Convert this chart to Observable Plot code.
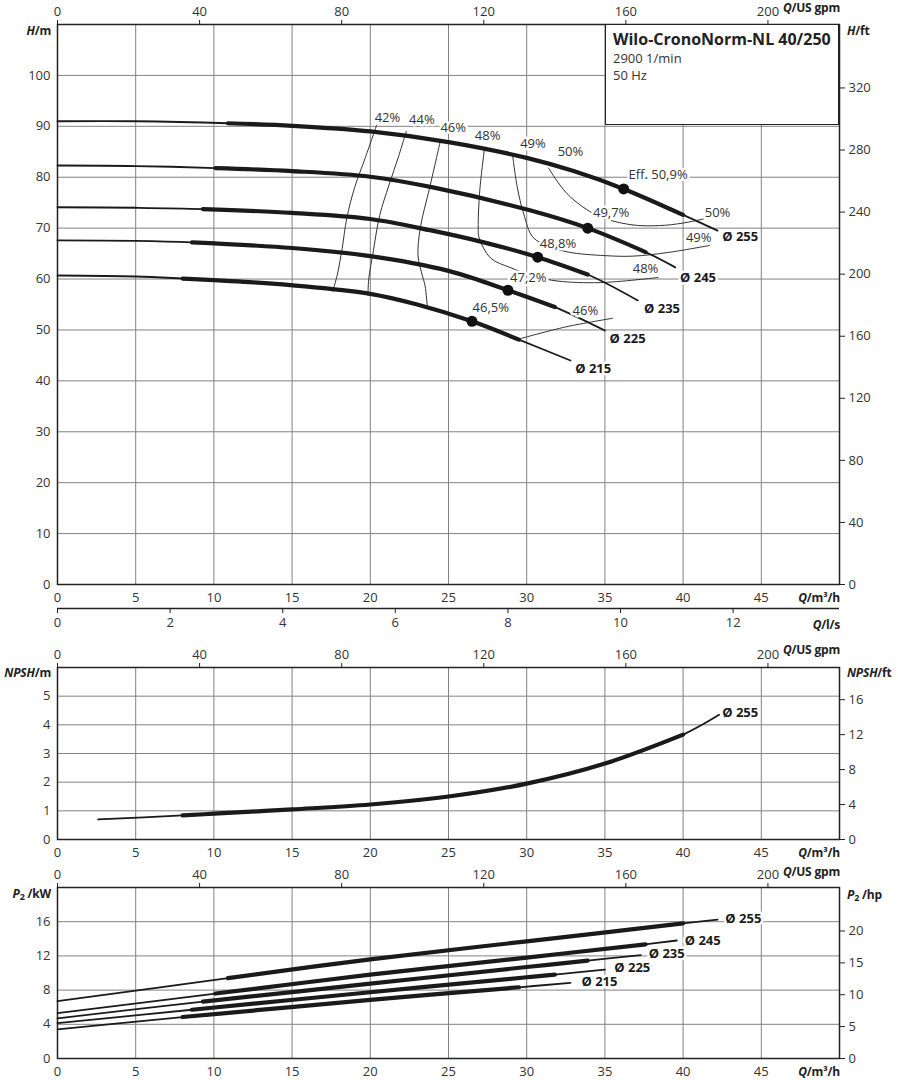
<!DOCTYPE html>
<html><head><meta charset="utf-8">
<script src="https://cdn.jsdelivr.net/npm/d3@7"></script>
<script src="https://cdn.jsdelivr.net/npm/@observablehq/plot@0.6"></script>
<style>
body{margin:0;background:#fff;}
#chart{position:relative;width:898px;height:1080px;font-family:"Open Sans",sans-serif;color:#333;overflow:hidden;}
#chart svg{position:absolute;left:0;overflow:visible;}
.lab{position:absolute;font-size:12px;font-weight:bold;color:#222;white-space:nowrap;line-height:1;transform:translateY(-50%);letter-spacing:-0.2px;}
.lab sub{font-size:9px;vertical-align:-2px;}
#title{position:absolute;left:605px;top:24px;width:232px;height:99px;border:1.5px solid #222;background:#fff;}
#title .t1{position:absolute;left:7px;top:3px;font-size:16px;font-weight:bold;color:#222;}
#title .t2{position:absolute;left:7px;top:24px;font-size:13px;color:#333;}
#title .t3{position:absolute;left:7px;top:41px;font-size:13px;color:#333;}
</style></head><body><div id="chart"></div>
<script>
// ---------- data ----------
const diameters = ["Ø 255", "Ø 245", "Ø 235", "Ø 225", "Ø 215"];
const qTicks = [0, 5, 10, 15, 20, 25, 30, 35, 40, 45];
const gpmTicks = [0, 40, 80, 120, 160, 200];
const lsTicks = [0, 2, 4, 6, 8, 10, 12];
const hTicks = [0, 10, 20, 30, 40, 50, 60, 70, 80, 90, 100];
const hFtTicks = [0, 40, 80, 120, 160, 200, 240, 280, 320];
const npshTicks = [0, 1, 2, 3, 4, 5];
const npshFtTicks = [0, 4, 8, 12, 16];
const p2Ticks = [0, 4, 8, 12, 16];
const p2HpTicks = [0, 5, 10, 15, 20];

// H(Q) curves  [Q m³/h, H m]
const h255 = [[0,91.0],[5,91.0],[10.9,90.6],[15,90.1],[20,89.0],[25,86.9],[30,83.8],[33,81.2],[36.2,77.7],[40,72.6],[42.2,69.5]];
const h245 = [[0,82.3],[5,82.2],[10.1,81.8],[15,81.2],[20,80.1],[24,78.0],[30.2,73.5],[33.9,70.0],[37.6,65.3],[39.5,62.3]];
const h235 = [[0,74.1],[5,74.0],[9.3,73.75],[15,73.0],[20,71.8],[23.8,69.6],[27,67.4],[30.7,64.3],[33.9,60.9],[37.1,55.8]];
const h225 = [[0,67.6],[5,67.5],[8.6,67.2],[15,66.1],[20,64.5],[25,61.6],[28.8,57.8],[31.8,54.5],[35,49.9]];
const h215 = [[0,60.7],[5,60.5],[8.0,60.1],[12.3,59.4],[16,58.5],[20,57.1],[23,55.0],[26.5,51.7],[29.5,48.1],[32.8,44.0]];
const hCurves = [h255, h245, h235, h225, h215];
const thickRanges = [[10.9,40],[10.1,37.6],[9.3,33.9],[8.6,31.8],[8.0,29.5]];
const bepQ = [36.2, 33.9, 30.7, 28.8, 26.5];
const bepH = [77.7, 70.0, 64.3, 57.8, 51.7];

// iso-efficiency lines
const effNames = ["42%","44%","46%a","46%b","48%","49%","50%"];
const effLines = [
  [[20.4,90.2],[19.7,84],[19.0,78],[18.5,72],[18.2,66],[17.9,61],[17.6,57.6]],
  [[22.3,89.0],[21.8,84],[21.2,78.5],[20.6,72.5],[20.2,65.6],[19.9,60],[19.85,56.8]],
  [[24.5,87.4],[23.8,78],[23.2,70.1],[23.05,64.6],[23.3,61],[23.5,58.7],[23.65,54.4]],
  [[29.6,48.3],[32.5,50.6],[35.5,52.3]],
  [[27.3,85.6],[27.0,77.4],[26.9,70],[26.95,68.2],[27.7,64.1],[29.0,62.2],[30.5,60.5],[32,59.6],[34.7,59.3],[38.4,60.3]],
  [[29.1,84.3],[29.4,78.0],[29.8,72.9],[30.4,68.2],[31.4,66.5],[32.65,65.3],[35,64.6],[36.8,64.5],[39,65.2],[41.7,66.6]],
  [[31.4,81.8],[32.0,79.0],[32.8,76.1],[34.5,72.5],[36.6,70.7],[38.5,70.5],[40.0,71.0],[41.3,71.8]]
];
const effLabelText = ["42%","44%","46%","48%","49%","50%","Eff. 50,9%","49,7%","48,8%","47,2%","46,5%","46%","48%","49%","50%"];
const effLabelQ = [21.1,23.3,25.3,27.5,30.4,32.8,38.4,35.4,32.0,30.1,27.7,33.75,37.6,41.0,42.2];
const effLabelH = [91.7,91.2,89.8,88.2,86.6,84.9,80.4,73.1,67.0,60.3,54.4,53.8,62.1,68.0,73.1];
const hDiaLabelQ = [42.5, 39.8, 37.5, 35.3, 33.1];
const hDiaLabelH = [68.2, 60.3, 54.2, 48.3, 42.4];

// NPSH (Ø 255)
const npsh255 = [[2.6,0.7],[8,0.84],[10,0.9],[15,1.05],[20,1.22],[25,1.5],[30,1.95],[35,2.65],[40,3.66],[42.3,4.35]];
const npshThick = [8, 40];
const npshLabel = {text: "Ø 255", q: 42.5, v: 4.43};

// P2 curves [Q m³/h, P2 kW]
const p255 = [[0,6.7],[10.9,9.4],[20,11.6],[30,13.7],[40,15.8],[42.2,16.25]];
const p245 = [[0,5.3],[10.1,7.6],[20,9.8],[30,11.8],[37.6,13.35],[39.6,13.8]];
const p235 = [[0,4.7],[9.3,6.65],[20,8.75],[30,10.7],[33.9,11.45],[37.3,12.1]];
const p225 = [[0,4.13],[8.6,5.7],[20,7.75],[30,9.5],[31.8,9.8],[35,10.4]];
const p215 = [[0,3.4],[8.0,4.85],[20,6.85],[29.5,8.33],[32.8,8.85]];
const pCurves = [p255, p245, p235, p225, p215];
const pDiaLabelQ = [42.7, 40.1, 37.8, 35.6, 33.5];
const pDiaLabelP = [16.3, 13.8, 12.2, 10.6, 9.0];

// unit conversions
const GPM = 0.2271247, FT = 0.3048, HP = 0.7457, LS = 3.6;

// ---------- helpers ----------
const INK = "#1a1a1a", GRID = "#828282";
function rowsOf(curves, names) {
  return curves.flatMap((c, i) => c.map(([q, v]) => ({d: names[i], i, q, v})));
}
function curveMarks(curves, names, ranges) {
  const rows = rowsOf(curves, names);
  const thick = rows.filter(r => r.q >= ranges[r.i][0] - 1e-9 && r.q <= ranges[r.i][1] + 1e-9);
  return [
    Plot.line(rows, {x: "q", y: "v", z: "d", curve: "catmull-rom", stroke: INK, strokeWidth: 1.8}),
    Plot.line(thick, {x: "q", y: "v", z: "d", curve: "catmull-rom", stroke: INK, strokeWidth: 4.2})
  ];
}
function frameMarks(yTicks, rTicks, rFactor) {
  return [
    Plot.gridX(qTicks.filter(v => v > 0), {stroke: GRID, strokeOpacity: 1, strokeWidth: 1}),
    Plot.gridY(yTicks.filter(v => v > 0), {stroke: GRID, strokeOpacity: 1, strokeWidth: 1}),
    Plot.axisX(gpmTicks.map(g => g * GPM), {anchor: "top", tickSize: 5, tickPadding: 4, tickFormat: d => Math.round(d / GPM), label: null, stroke: "#222"}),
    Plot.axisX(qTicks, {anchor: "bottom", tickSize: 0, tickPadding: 8, label: null}),
    Plot.axisY(yTicks, {anchor: "left", tickSize: 0, tickPadding: 7, label: null}),
    Plot.axisY(rTicks.map(t => t * rFactor), {anchor: "right", tickSize: 5, tickPadding: 4, tickFormat: d => Math.round(d / rFactor), label: null, stroke: "#222"}),
    Plot.frame({stroke: "#222", strokeWidth: 1.5})
  ];
}
const base = {width: 898, marginLeft: 57, marginRight: 59,
  style: {fontFamily: "Open Sans, sans-serif", fontSize: "13px", color: "#333", background: "transparent", overflow: "visible"}};

// ---------- panel 1: H ----------
const effRows = effLines.flatMap((pts, i) => pts.map(([q, v]) => ({d: effNames[i], q, v})));
const effLab = effLabelText.map((t, i) => ({t, q: effLabelQ[i], v: effLabelH[i]}));
const hDiaLab = diameters.map((t, i) => ({t, q: hDiaLabelQ[i], v: hDiaLabelH[i]}));
const bep = bepQ.map((q, i) => ({q, v: bepH[i]}));

const p1 = Plot.plot({...base, height: 640, marginTop: 24, marginBottom: 56,
  x: {domain: [0, 50], label: null}, y: {domain: [0, 110], label: null},
  marks: [
    ...frameMarks(hTicks, hFtTicks, FT),
    Plot.ruleY([0], {dy: 24, stroke: "#222", strokeWidth: 1.5}),
    Plot.axisX(lsTicks.map(v => v * LS), {anchor: "bottom", dy: 24, tickSize: 5, tickPadding: 4, tickFormat: d => Math.round(d / LS), label: null, stroke: "#222"}),
    Plot.line(effRows, {x: "q", y: "v", z: "d", curve: "catmull-rom", stroke: "#333", strokeWidth: 1}),
    ...curveMarks(hCurves, diameters, thickRanges),
    Plot.dot(bep, {x: "q", y: "v", r: 5.5, fill: "#111"}),
    Plot.text(effLab, {x: "q", y: "v", text: "t", fontSize: 13, fill: "#333", stroke: "white", strokeWidth: 5}),
    Plot.text(hDiaLab, {x: "q", y: "v", text: "t", textAnchor: "start", fontSize: 13, fontWeight: "bold", fill: "#1a1a1a", stroke: "white", strokeWidth: 5})
  ]});

// ---------- panel 2: NPSH ----------
const npshRows = npsh255.map(([q, v]) => ({d: "255", q, v}));
const p2 = Plot.plot({...base, height: 220, marginTop: 27, marginBottom: 21,
  x: {domain: [0, 50], label: null}, y: {domain: [0, 6], label: null},
  marks: [
    ...frameMarks(npshTicks, npshFtTicks, FT),
    Plot.line(npshRows, {x: "q", y: "v", curve: "catmull-rom", stroke: INK, strokeWidth: 1.8}),
    Plot.line(npshRows.filter(r => r.q >= npshThick[0] && r.q <= npshThick[1]), {x: "q", y: "v", curve: "catmull-rom", stroke: INK, strokeWidth: 4.2}),
    Plot.text([npshLabel], {x: "q", y: "v", text: "text", textAnchor: "start", fontSize: 13, fontWeight: "bold", fill: "#1a1a1a", stroke: "white", strokeWidth: 5})
  ]});

// ---------- panel 3: P2 ----------
const pDiaLab = diameters.map((t, i) => ({t, q: pDiaLabelQ[i], v: pDiaLabelP[i]}));
const p3 = Plot.plot({...base, height: 220, marginTop: 27, marginBottom: 22,
  x: {domain: [0, 50], label: null}, y: {domain: [0, 20], label: null},
  marks: [
    ...frameMarks(p2Ticks, p2HpTicks, HP),
    ...curveMarks(pCurves, diameters, thickRanges),
    Plot.text(pDiaLab, {x: "q", y: "v", text: "t", textAnchor: "start", fontSize: 13, fontWeight: "bold", fill: "#1a1a1a", stroke: "white", strokeWidth: 5})
  ]});

const chart = document.getElementById("chart");
[[p1, 0], [p2, 640], [p3, 860]].forEach(([svg, top]) => { svg.style.top = top + "px"; chart.appendChild(svg); });

// axis titles
const labels = [
  ["<i>H</i>/m", "r", 51, 31], ["<i>H</i>/ft", "l", 847, 31], ["<i>Q</i>/US gpm", "r", 840, 8],
  ["<i>Q</i>/m³/h", "r", 840, 598], ["<i>Q</i>/l/s", "r", 840, 625],
  ["<i>Q</i>/US gpm", "r", 840, 650], ["<i>NPSH</i>/m", "r", 51, 673], ["<i>NPSH</i>/ft", "l", 847, 673],
  ["<i>Q</i>/m³/h", "r", 840, 853], ["<i>Q</i>/US gpm", "r", 840, 872],
  ["<i>P</i><sub>2</sub> /kW", "r", 51, 894], ["<i>P</i><sub>2</sub> /hp", "l", 847, 895],
  ["<i>Q</i>/m³/h", "r", 840, 1072]
];
labels.forEach(([html, side, x, y]) => {
  const el = document.createElement("div");
  el.className = "lab";
  el.innerHTML = html;
  el.style.top = y + "px";
  if (side === "r") el.style.right = (898 - x) + "px"; else el.style.left = x + "px";
  chart.appendChild(el);
});
const title = document.createElement("div");
title.id = "title";
title.innerHTML = '<div class="t1">Wilo-CronoNorm-NL 40/250</div><div class="t2">2900 1/min</div><div class="t3">50 Hz</div>';
chart.appendChild(title);
</script>
</body></html>
